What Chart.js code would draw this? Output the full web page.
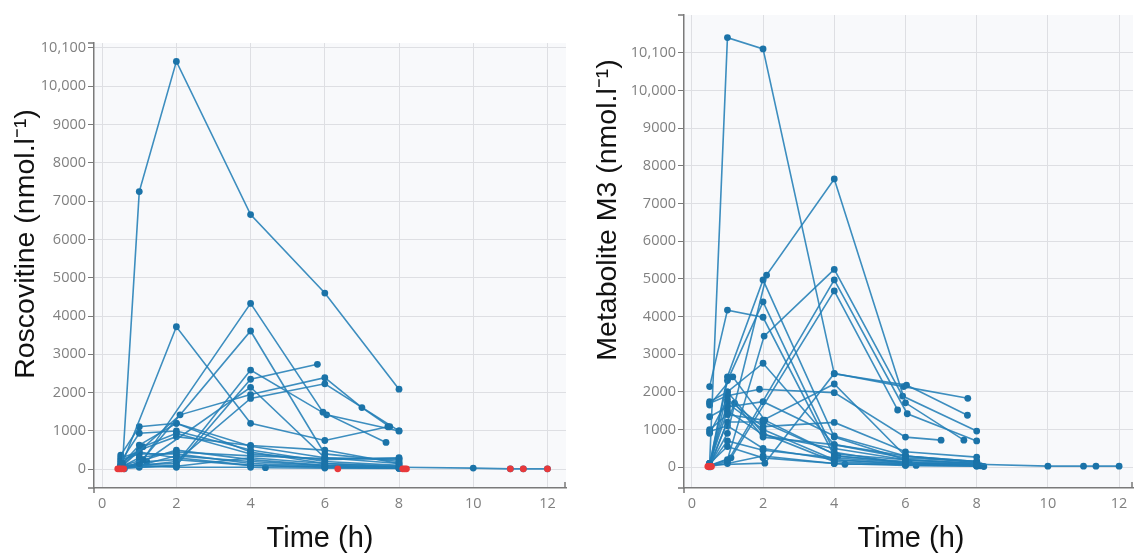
<!DOCTYPE html>
<html>
<head>
<meta charset="utf-8">
<script src="https://cdn.jsdelivr.net/npm/chart.js@4.4.1/dist/chart.umd.min.js"></script>
<style>
  html, body { margin: 0; padding: 0; background: #fff; }
  #wrap { position: relative; width: 1137px; height: 554px; }
  .panel { position: absolute; top: 0; height: 554px; }
</style>
</head>
<body>
<div id="wrap">
  <div class="panel" style="left:0;width:580px"><canvas id="roscoChart"></canvas></div>
  <div class="panel" style="left:580px;width:557px"><canvas id="m3Chart"></canvas></div>
</div>
<script>
// tick labels (the top tick sits on a broken axis and reads 10,100)
const yTickValues = [0, 1000, 2000, 3000, 4000, 5000, 6000, 7000, 8000, 9000, 10000, 11000];
const yTickLabels = ['0', '1000', '2000', '3000', '4000', '5000', '6000', '7000', '8000', '9000', '10,000', '10,100'];
const xTickValues = [0, 2, 4, 6, 8, 10, 12];

// Roscovitine, one row per patient: sampling times (h) and concentrations
const roscoTimes = [
  [0.55, 1, 2, 4, 6, 8],
  [0.5, 2, 4, 6, 7.7],
  [0.5, 1.1, 4, 5.95, 7.65],
  [0.5, 1, 4, 6, 8],
  [0.5, 2, 4, 6.05, 8],
  [0.5, 2, 4, 5.8],
  [0.5, 2.1, 4, 6, 7, 7.75],
  [0.5, 2, 4, 6, 8],
  [0.5, 1, 4, 6, 8],
  [0.5, 1, 2, 4, 6, 8],
  [0.5, 1, 2, 4, 6, 8],
  [0.5, 1, 2, 4, 6, 8],
  [0.5, 1.1, 2, 4, 6, 8],
  [0.5, 1, 2, 4, 6, 8],
  [0.5, 1, 2, 4, 6, 8],
  [0.5, 1, 2, 4, 6, 8, 10, 11, 11.35, 12],
  [0.5, 1, 2, 4, 6, 8],
  [0.5, 1.2, 2, 4, 6, 8],
  [0.5, 1, 2, 4, 4.4, 6, 8],
  [0.5, 1, 2, 4, 6, 8],
  [0.6, 1, 2, 4, 6, 8],
  [0.5, 1, 2, 4, 6, 8]
];
const roscoValues = [
  [150, 7250, 10650, 6650, 4600, 2090],
  [50, 3720, 1200, 750, 1110],
  [80, 250, 4330, 1490, 700],
  [60, 150, 3610, 400, 200],
  [100, 150, 2590, 1420, 1000],
  [30, 100, 2350, 2740],
  [50, 1420, 1950, 2390, 1610, 1110],
  [40, 200, 1850, 2230, 1000],
  [40, 100, 2140, 300, 150],
  [370, 1110, 1200, 600, 300, 250],
  [200, 940, 1000, 500, 200, 100],
  [100, 630, 1200, 450, 150, 80],
  [150, 590, 940, 400, 250, 300],
  [80, 500, 850, 620, 500, 150],
  [50, 300, 450, 350, 280, 280],
  [20, 100, 350, 200, 100, 50, 30, 10, 10, 10],
  [250, 400, 400, 150, 80, 40],
  [30, 200, 250, 100, 60, 30],
  [60, 100, 50, 50, 40, 30, 20],
  [20, 50, 80, 300, 150, 60],
  [10, 200, 500, 250, 100, 50],
  [300, 450, 300, 100, 50, 25]
];
// samples below the limit of quantification (red)
const roscoBlqTimes = [0.42, 0.47, 0.52, 0.58, 6.35, 8.1, 8.15, 8.2, 11, 11.35, 12];
const roscoBlqValues = [10, 10, 10, 10, 10, 10, 10, 10, 10, 10, 10];

// Metabolite M3
const m3Times = [
  [0.5, 1, 2, 4, 6.03, 7.74],
  [0.5, 1, 2.1, 4, 6, 7.64],
  [0.5, 1, 2, 4, 6, 8],
  [0.5, 1, 2, 4, 6, 8],
  [0.5, 1, 2, 4, 6, 8],
  [0.5, 1, 2.03, 4, 5.92, 8],
  [0.5, 1, 4, 6.05, 8],
  [0.5, 1.1, 4, 5.78],
  [0.5, 1, 2, 4, 6, 8],
  [0.5, 1, 1.9, 4, 6, 7],
  [0.5, 2.05, 4, 5.95, 7.75],
  [0.5, 1, 2, 4, 6, 8],
  [0.5, 1, 2, 4, 6, 8],
  [0.5, 1, 2, 4, 6, 8],
  [0.5, 1, 2, 4, 6, 8],
  [0.5, 1, 2, 4, 6, 8],
  [0.5, 1, 2, 4, 6, 8, 10, 11, 11.35, 12],
  [0.5, 1, 2, 4, 6, 8],
  [0.5, 1, 2, 4, 6, 8],
  [0.5, 1, 2, 4, 6, 8],
  [0.5, 1.2, 2, 4, 6, 8],
  [0.5, 1, 2, 4, 4.3, 6, 6.3, 8, 8.2],
  [0.5, 1, 2, 4, 6, 8.1],
  [0.5, 1.15, 2.05, 4.1, 6.1, 8]
];
const m3Values = [
  [100, 11400, 11100, 2480, 2180, 1380],
  [50, 900, 5100, 7650, 1710, 720],
  [2140, 4170, 3980, 300, 150, 80],
  [80, 2400, 4970, 800, 200, 100],
  [60, 2300, 4390, 400, 100, 50],
  [40, 200, 3480, 5250, 1890, 960],
  [30, 150, 4970, 1420, 700],
  [50, 250, 4680, 1520],
  [1740, 2000, 2760, 600, 250, 150],
  [1700, 1900, 2070, 1980, 800, 720],
  [60, 110, 2490, 2140, 1830],
  [1000, 1400, 1250, 2210, 300, 120],
  [900, 1800, 1080, 1190, 410, 270],
  [100, 1500, 860, 500, 200, 100],
  [1340, 1600, 1740, 830, 300, 150],
  [100, 1700, 1000, 200, 100, 60],
  [50, 700, 450, 250, 120, 80, 30, 30, 30, 30],
  [30, 2000, 900, 150, 60, 40],
  [20, 100, 300, 100, 50, 30],
  [60, 1200, 1200, 350, 200, 100],
  [10, 1700, 800, 600, 300, 150],
  [100, 550, 250, 100, 80, 80, 50, 40, 20],
  [950, 1100, 500, 200, 80, 40],
  [1650, 2400, 1250, 300, 120, 60]
];
const m3BlqTimes = [0.45, 0.5, 0.55];
const m3BlqValues = [20, 20, 20];

const LINE = 'rgba(34,126,182,0.88)';
const DOT = '#1b73a8';
const RED = '#e8393b';
const AXIS = '#7a7a7a';

function buildDatasets(times, values, blqT, blqV) {
  const sets = times.map((ts, i) => ({
    data: ts.map((t, j) => ({ x: t, y: values[i][j] })),
    order: 1,
    showLine: true,
    borderColor: LINE,
    borderWidth: 1.6,
    pointRadius: 3.4,
    pointBackgroundColor: DOT,
    pointBorderColor: DOT,
    pointBorderWidth: 0
  }));
  sets.push({
    data: blqT.map((t, j) => ({ x: t, y: blqV[j] })),
    order: 0,
    showLine: false,
    pointRadius: 3.4,
    pointBackgroundColor: RED,
    pointBorderColor: RED,
    pointBorderWidth: 0
  });
  return sets;
}

// plot background, axis end caps and the axis titles
const panelDeco = {
  id: 'panelDeco',
  beforeDraw(chart) {
    const a = chart.chartArea, ctx = chart.ctx;
    ctx.save();
    ctx.fillStyle = '#f8f9fb';
    ctx.fillRect(a.left, a.top, a.right - a.left, a.bottom - a.top);
    ctx.restore();
  },
  afterDraw(chart, args, o) {
    const a = chart.chartArea, ctx = chart.ctx;
    ctx.save();
    ctx.strokeStyle = AXIS;
    ctx.lineWidth = 1.5;
    ctx.beginPath();
    ctx.moveTo(a.left - 6, a.top); ctx.lineTo(a.left, a.top);
    ctx.moveTo(a.left, a.bottom); ctx.lineTo(a.left, a.bottom + 5);
    ctx.moveTo(a.left - 6, a.bottom); ctx.lineTo(a.left, a.bottom);
    ctx.moveTo(a.right - 1, a.bottom); ctx.lineTo(a.right - 1, a.bottom - 6);
    ctx.stroke();

    ctx.fillStyle = '#111';
    ctx.textAlign = 'center';
    ctx.textBaseline = 'middle';
    ctx.font = '29px "Liberation Sans", Arial, sans-serif';
    ctx.fillText(o.xTitle, o.xX, o.xY);
    ctx.translate(o.yX, o.yY);
    ctx.rotate(-Math.PI / 2);
    ctx.font = '28.5px "Liberation Sans", Arial, sans-serif';
    ctx.fillText(o.yTitle, 0, 0);
    ctx.restore();
  }
};

function makeChart(id, datasets, p) {
  return new Chart(document.getElementById(id), {
    type: 'scatter',
    data: { datasets },
    plugins: [panelDeco],
    options: {
      responsive: true,
      maintainAspectRatio: false,
      animation: false,
      events: [],
      layout: { padding: { top: p.top, right: p.right, left: 0, bottom: 0 } },
      plugins: {
        legend: { display: false },
        tooltip: { enabled: false },
        panelDeco: p.deco
      },
      scales: {
        x: {
          type: 'linear',
          min: p.xMin, max: p.xMax,
          afterFit: s => { s.height = 66; },
          afterBuildTicks: s => { s.ticks = xTickValues.map(v => ({ value: v })); },
          grid: { color: '#dedfe3', lineWidth: 1, drawTicks: false },
          border: { display: true, color: AXIS, width: 1.5 },
          ticks: { padding: 7, color: '#808080', font: { family: 'Open Sans', size: 14.5 } }
        },
        y: {
          type: 'linear',
          min: p.yMin, max: p.yMax,
          afterFit: s => { s.width = p.yWidth; },
          afterBuildTicks: s => { s.ticks = yTickValues.map(v => ({ value: v })); },
          grid: { color: '#dedfe3', lineWidth: 1, drawTicks: true, tickLength: 6, tickColor: AXIS },
          border: { display: true, color: AXIS, width: 1.5 },
          ticks: {
            padding: 2, color: '#808080', font: { family: 'Open Sans', size: 14.5 },
            callback: v => yTickLabels[yTickValues.indexOf(v)]
          }
        }
      }
    }
  });
}

makeChart('roscoChart', buildDatasets(roscoTimes, roscoValues, roscoBlqTimes, roscoBlqValues), {
  top: 43, right: 14, yWidth: 94,
  xMin: -0.22, xMax: 12.5, yMin: -490, yMax: 11130,
  deco: { xTitle: 'Time (h)', xX: 320, xY: 539, yTitle: 'Roscovitine (nmol.l\u207B\u00B9)', yX: 26, yY: 244 }
});

makeChart('m3Chart', buildDatasets(m3Times, m3Values, m3BlqTimes, m3BlqValues), {
  top: 15, right: 0, yWidth: 104,
  xMin: -0.22, xMax: 12.39, yMin: -550, yMax: 12000,
  deco: { xTitle: 'Time (h)', xX: 331, xY: 539, yTitle: 'Metabolite M3 (nmol.l\u207B\u00B9)', yX: 28, yY: 210 }
});
</script>
</body>
</html>
